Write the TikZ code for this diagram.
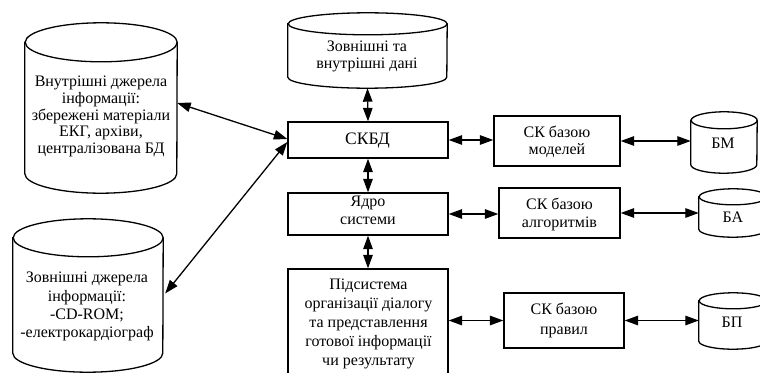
\documentclass[tikz,border=0pt]{standalone}
\usepackage{fontspec}
\setmainfont{Liberation Serif}
\usetikzlibrary{arrows.meta}
\tikzset{
  box/.style={draw, line width=1.3pt, fill=white, inner sep=0pt},
  cylbox/.style={inner sep=0pt},
  txt/.style={inner sep=0pt, align=center, font=\fontsize{16}{#1}\selectfont},
  txt/.default=17,
  cylline/.style={line width=1.3pt},
  biarrow/.style={line width=1.3pt, {Triangle[length=13.5pt,width=9.5pt]}-{Triangle[length=13.5pt,width=9.5pt]}}
}
\newcommand\drawcyl[3]{%
  \draw[cylline, fill=white] ([yshift=-#2]#1.north west) -- ([yshift=#2]#1.south west)
    arc[start angle=180, end angle=360, x radius=#3, y radius=#2]
    -- ([yshift=-#2]#1.north east)
    arc[start angle=0, end angle=180, x radius=#3, y radius=#2] -- cycle;
  \draw[cylline] ([yshift=-#2]#1.north east)
    arc[start angle=0, end angle=-180, x radius=#3, y radius=#2];
}
\begin{document}
\begin{tikzpicture}[x=1pt, y=-1pt]
\useasboundingbox (0,0) rectangle (760,372);
% cylinders
\node[cylbox, minimum width=152pt, minimum height=170pt] (inner) at (101,108) {};
\drawcyl{inner}{19.5pt}{76pt}
\node[txt=16.7] (innert) at (101,116.7) {Внутрішні джерела\\інформації:\\збережені матеріали\\ЕКГ, архіви,\\централізована БД};

\node[cylbox, minimum width=150pt, minimum height=153pt] (outer) at (88,295.5) {};
\drawcyl{outer}{19pt}{75pt}
\node[txt=18.3] (outert) at (87,306.8) {Зовнішні джерела\\інформації:\\-CD-ROM;\\-електрокардіограф};

\node[cylbox, minimum width=159pt, minimum height=75pt] (data) at (367.5,50.5) {};
\drawcyl{data}{11pt}{79.5pt}
\node[txt=17] (datat) at (367,56.8) {Зовнішні та\\внутрішні дані};

\node[cylbox, minimum width=66pt, minimum height=61pt] (bm) at (724,142.5) {};
\drawcyl{bm}{8.5pt}{33pt}
\node[txt] (bmt) at (723,142.8) {БМ};

\node[cylbox, minimum width=68pt, minimum height=48pt] (ba) at (733,213) {};
\drawcyl{ba}{8pt}{34pt}
\node[txt] (bat) at (733,217.5) {БА};

\node[cylbox, minimum width=68pt, minimum height=56pt] (bp) at (733,321) {};
\drawcyl{bp}{8pt}{34pt}
\node[txt] (bpt) at (732,322.5) {БП};

% boxes
\node[box, minimum width=160pt, minimum height=36pt] (skbd) at (368,140) {};
\node[inner sep=0pt, font=\fontsize{17.5}{20}\selectfont] (skbdt) at (367.5,140.5) {СКБД};
\node[box, minimum width=160pt, minimum height=42pt] (yadro) at (368,214) {};
\node[txt=18] (yadrot) at (368,210.7) {Ядро\\системи};
\node[box, minimum width=160pt, minimum height=105pt] (pidsys) at (368,321.5) {};
\node[txt=19] (pidsyst) at (368.5,324.2) {Підсистема\\організації діалогу\\та представлення\\готової інформації\\чи результату};
\node[box, minimum width=126pt, minimum height=50pt] (models) at (557,141) {};
\node[txt=17.5] (modelst) at (557,142) {СК базою\\моделей};
\node[box, minimum width=121pt, minimum height=50pt] (algo) at (559.5,213) {};
\node[txt=18] (algot) at (559.5,214.2) {СК базою\\алгоритмів};
\node[box, minimum width=120pt, minimum height=55pt] (rules) at (564,320.5) {};
\node[txt=20] (rulest) at (564,320.2) {СК базою\\правил};

% connectors
\draw[biarrow] (data.south) -- (skbd.north);
\draw[biarrow] (skbd.south) -- (yadro.north);
\draw[biarrow] (yadro.south) -- (pidsys.north);
\draw[biarrow] (skbd.east) -- (skbd.east -| models.west);
\draw[biarrow] (models.east) -- (models.east -| bm.west);
\draw[biarrow] (yadro.east) -- (yadro.east -| algo.west);
\draw[biarrow] (algo.east) -- (algo.east -| ba.west);
\draw[biarrow] (pidsys.east |- rules.west) -- (rules.west);
\draw[biarrow] (rules.east) -- (rules.east -| bp.west);
\draw[biarrow] ([yshift=5pt]inner.east) -- ([yshift=1pt]skbd.west);
\draw[biarrow] ([yshift=-2pt]skbd.west) -- ([yshift=2pt,xshift=2pt]outer.east);
\end{tikzpicture}
\end{document}
